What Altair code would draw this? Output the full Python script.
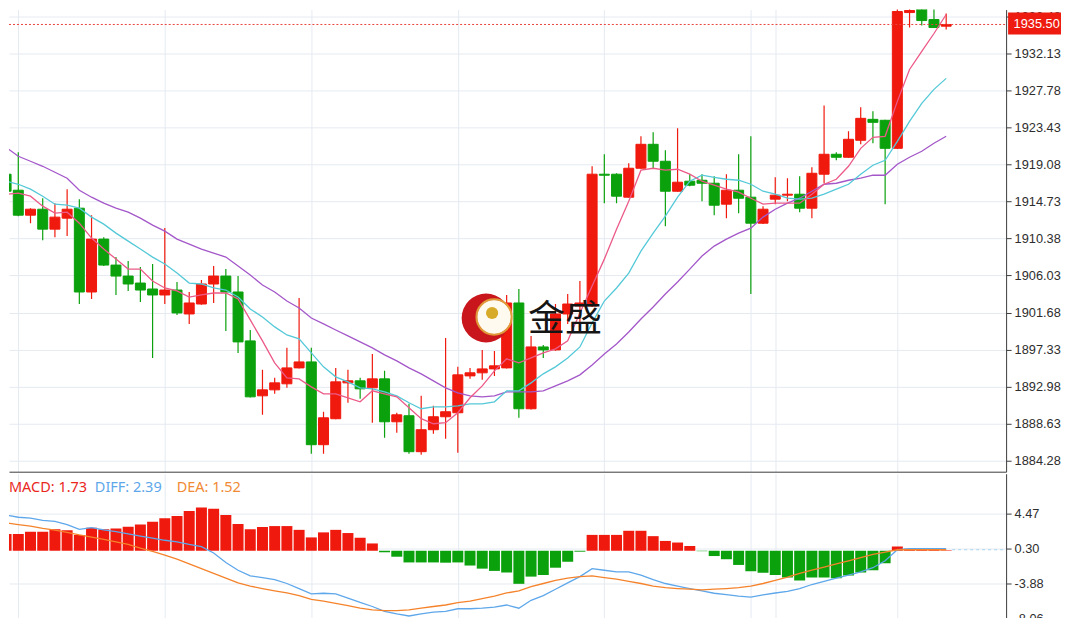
import altair as alt
import pandas as pd

# ---------------- data ----------------
opens = [1917.92, 1916.04, 1913.11, 1913.81, 1911.47, 1912.76, 1913.93, 1904.09, 1910.30, 1907.25,
         1905.96, 1905.14, 1904.44, 1903.74, 1904.32, 1901.51, 1902.68, 1905.03, 1905.96, 1904.09,
         1898.35, 1891.90, 1892.60, 1893.31, 1895.18, 1895.88, 1886.16, 1889.21, 1893.42, 1893.66,
         1892.84, 1893.89, 1888.85, 1889.56, 1885.34, 1887.92, 1889.44, 1889.91, 1894.24, 1894.60,
         1895.06, 1895.18, 1902.80, 1890.38, 1897.64, 1897.29, 1901.51, 1902.45, 1902.45, 1917.92,
         1917.92, 1915.22, 1918.62, 1921.43, 1919.44, 1915.92, 1917.10, 1917.21, 1916.86, 1914.40,
         1916.04, 1915.22, 1912.17, 1914.99, 1915.46, 1915.57, 1913.93, 1917.92, 1920.26, 1919.91,
         1921.90, 1924.36, 1924.25, 1920.96, 1936.90, 1937.37, 1936.08, 1935.30]
closes = [1915.92, 1913.11, 1913.81, 1911.47, 1912.88, 1913.81, 1904.09, 1910.30, 1907.25, 1905.96,
          1905.03, 1904.32, 1903.74, 1904.32, 1901.63, 1902.80, 1905.03, 1905.96, 1904.09, 1898.23,
          1891.78, 1892.60, 1893.42, 1895.18, 1895.88, 1886.16, 1889.32, 1893.54, 1893.66, 1892.72,
          1893.89, 1888.85, 1889.67, 1885.34, 1887.92, 1889.44, 1890.03, 1894.36, 1894.60, 1895.06,
          1895.42, 1902.80, 1890.38, 1897.64, 1897.29, 1901.51, 1902.68, 1902.80, 1917.92, 1917.80,
          1915.34, 1918.62, 1921.43, 1919.44, 1915.92, 1916.98, 1916.63, 1916.86, 1914.28, 1916.04,
          1915.10, 1912.17, 1913.81, 1915.46, 1915.57, 1913.93, 1918.03, 1920.26, 1919.91, 1922.02,
          1924.48, 1924.01, 1920.96, 1937.02, 1937.14, 1935.96, 1935.14, 1935.50]
highs = [1920.96, 1920.49, 1913.93, 1915.10, 1914.52, 1916.16, 1914.99, 1913.11, 1910.53, 1908.19,
         1907.72, 1907.02, 1907.37, 1911.59, 1905.26, 1904.09, 1905.49, 1907.13, 1906.78, 1905.96,
         1899.63, 1894.95, 1894.01, 1897.53, 1903.39, 1897.53, 1890.03, 1895.18, 1894.95, 1894.01,
         1896.82, 1894.83, 1889.91, 1890.96, 1891.90, 1890.73, 1898.70, 1895.30, 1895.18, 1897.29,
         1897.17, 1903.74, 1904.44, 1898.93, 1897.88, 1902.68, 1903.85, 1905.38, 1918.85, 1920.26,
         1918.03, 1919.20, 1922.37, 1922.84, 1920.72, 1923.31, 1917.92, 1917.92, 1917.68, 1917.92,
         1920.26, 1922.37, 1914.17, 1917.56, 1917.45, 1917.68, 1918.74, 1926.00, 1920.49, 1922.96,
         1925.77, 1925.30, 1924.30, 1937.96, 1937.96, 1937.60, 1937.37, 1936.78]
lows = [1912.99, 1912.99, 1912.17, 1910.18, 1910.53, 1910.65, 1902.68, 1903.27, 1907.13, 1903.74,
        1904.21, 1902.92, 1896.35, 1902.68, 1901.39, 1900.34, 1902.60, 1902.80, 1899.52, 1896.94,
        1891.70, 1889.67, 1892.13, 1892.84, 1895.10, 1885.10, 1885.10, 1889.15, 1891.08, 1891.55,
        1888.74, 1886.98, 1887.56, 1885.10, 1884.99, 1887.45, 1886.86, 1885.22, 1893.89, 1893.78,
        1894.24, 1895.10, 1889.32, 1890.30, 1896.35, 1897.20, 1900.34, 1900.34, 1902.33, 1914.52,
        1914.52, 1915.15, 1918.55, 1918.62, 1911.82, 1915.85, 1916.51, 1914.75, 1913.11, 1912.76,
        1913.35, 1903.85, 1912.06, 1914.40, 1914.75, 1913.46, 1912.76, 1916.86, 1919.56, 1919.85,
        1921.43, 1921.55, 1914.40, 1920.90, 1935.14, 1935.38, 1935.10, 1934.91]

ma5 = [1915.57, 1915.69, 1915.34, 1914.17, 1913.35, 1913.46, 1912.17, 1910.42, 1909.13, 1907.95,
       1906.78, 1906.78, 1905.38, 1904.56, 1904.21, 1903.50, 1903.74, 1903.97, 1903.97, 1903.27,
       1900.81, 1898.35, 1895.77, 1894.01, 1893.89, 1892.95, 1892.13, 1892.13, 1891.67, 1891.20,
       1892.49, 1892.13, 1891.78, 1890.49, 1889.21, 1888.62, 1888.74, 1889.91, 1891.67, 1893.07,
       1894.83, 1896.24, 1895.77, 1896.35, 1896.94, 1897.41, 1898.35, 1901.63, 1904.79, 1907.95,
       1911.47, 1914.75, 1918.39, 1918.62, 1918.39, 1918.50, 1917.92, 1917.10, 1916.63, 1916.16,
       1915.81, 1915.10, 1914.40, 1914.52, 1914.52, 1914.52, 1915.57, 1916.74, 1917.33, 1918.85,
       1920.96, 1922.25, 1922.37, 1926.47, 1930.22, 1932.33, 1934.44, 1936.67]
ma10 = [1917.10, 1916.74, 1916.16, 1915.34, 1914.40, 1914.28, 1913.93, 1912.88, 1912.06, 1911.00,
        1910.06, 1909.13, 1908.19, 1907.37, 1906.31, 1905.14, 1905.03, 1904.56, 1904.32, 1903.50,
        1902.10, 1901.16, 1899.99, 1899.05, 1898.58, 1896.94, 1895.30, 1894.13, 1893.54, 1892.84,
        1892.72, 1892.37, 1891.90, 1891.08, 1890.38, 1890.61, 1890.61, 1890.73, 1890.96, 1890.96,
        1891.20, 1892.49, 1892.49, 1893.42, 1894.48, 1895.30, 1896.35, 1897.64, 1900.46, 1903.03,
        1904.56, 1906.31, 1908.89, 1911.00, 1912.99, 1915.22, 1917.10, 1917.80, 1917.56, 1917.33,
        1917.21, 1916.74, 1915.92, 1915.57, 1915.10, 1914.99, 1915.10, 1915.57, 1916.16, 1916.74,
        1917.92, 1918.97, 1919.56, 1921.78, 1924.13, 1926.24, 1927.88, 1929.17]
ma20 = [1921.08, 1920.03, 1919.44, 1918.85, 1918.15, 1917.45, 1916.04, 1915.22, 1914.52, 1913.93,
        1913.46, 1912.76, 1911.94, 1911.24, 1910.30, 1909.71, 1909.13, 1908.66, 1908.19, 1907.13,
        1906.08, 1904.91, 1904.09, 1903.03, 1902.21, 1901.04, 1900.34, 1899.63, 1898.93, 1898.23,
        1897.53, 1896.70, 1896.00, 1895.18, 1894.48, 1893.66, 1892.84, 1892.25, 1891.90, 1891.78,
        1891.90, 1892.37, 1892.37, 1892.37, 1892.49, 1893.07, 1893.66, 1894.36, 1895.53, 1896.82,
        1897.99, 1899.40, 1900.92, 1902.33, 1903.85, 1905.26, 1906.78, 1908.31, 1909.48, 1910.30,
        1911.00, 1911.59, 1912.88, 1913.81, 1914.52, 1915.10, 1915.92, 1916.74, 1916.86, 1917.21,
        1917.45, 1917.80, 1917.80, 1919.09, 1919.91, 1920.61, 1921.55, 1922.37]

macd_hist = [2.00, 2.00, 2.26, 2.26, 2.56, 2.45, 1.89, 2.75, 2.56, 2.64,
             2.87, 3.13, 3.47, 3.88, 4.14, 4.75, 5.16, 5.01, 4.26, 3.20,
             2.56, 2.83, 2.94, 2.94, 2.49, 1.59, 2.19, 2.49, 2.11, 1.55,
             0.87, -0.18, -0.71, -1.39, -1.39, -1.39, -1.42, -1.39, -1.76, -2.13,
             -2.40, -2.59, -3.94, -3.08, -2.89, -2.02, -1.31, -0.11, 1.89, 1.89,
             1.89, 2.38, 2.38, 1.74, 1.17, 0.98, 0.57, -0.05, -0.63, -1.01,
             -1.69, -2.44, -2.62, -2.89, -3.19, -3.53, -3.19, -3.19, -3.26, -2.96,
             -2.59, -2.32, -1.50, 0.50, 0.25, 0.15, 0.08, 0.05]
diff_line = [4.25, 3.99, 3.88, 3.62, 3.51, 3.12, 2.56, 2.75, 2.49, 2.27,
             2.00, 1.74, 1.51, 1.25, 1.06, 0.76, 0.50, -0.26, -1.39, -2.32,
             -3.00, -3.19, -3.45, -3.90, -4.50, -5.14, -5.06, -5.14, -5.63, -6.16,
             -6.64, -7.21, -7.51, -7.77, -7.51, -7.32, -7.21, -6.91, -6.91, -6.84,
             -6.72, -6.46, -6.84, -5.90, -5.34, -4.58, -3.82, -3.08, -2.13, -2.32,
             -2.52, -2.52, -2.89, -3.45, -3.90, -4.21, -4.50, -4.77, -5.06, -5.22,
             -5.40, -5.52, -5.26, -5.03, -4.84, -4.50, -4.02, -3.64, -3.26, -2.89,
             -2.52, -2.02, -1.20, 0.12, 0.24, 0.24, 0.24, 0.24]
dea_line = [3.32, 3.12, 2.94, 2.67, 2.45, 2.19, 1.88, 1.62, 1.36, 1.06,
            0.76, 0.30, -0.07, -0.52, -1.00, -1.57, -2.13, -2.70, -3.26, -3.82,
            -4.21, -4.50, -4.77, -5.03, -5.34, -5.79, -6.01, -6.27, -6.53, -6.84,
            -7.03, -7.14, -7.14, -7.03, -6.84, -6.64, -6.46, -6.19, -6.01, -5.71,
            -5.40, -5.03, -4.77, -4.28, -3.90, -3.53, -3.26, -3.08, -3.00, -3.19,
            -3.37, -3.64, -3.90, -4.21, -4.39, -4.50, -4.58, -4.66, -4.58, -4.50,
            -4.39, -4.21, -3.90, -3.53, -3.15, -2.70, -2.32, -1.95, -1.57, -1.20,
            -0.82, -0.44, -0.15, 0.12, 0.12, 0.12, 0.12, 0.12]

price_ticks = [1884.28, 1888.63, 1892.98, 1897.33, 1901.68, 1906.03, 1910.38,
               1914.73, 1919.08, 1923.43, 1927.78, 1932.13, 1936.48]
macd_ticks = [4.47, 0.30, -3.88, -8.06]
time_grid = [1, 13, 25, 37, 49, 61, 63, 73]
last_price = 1935.50
legend_labels = ["MACD: 1.73", "DIFF: 2.39", "DEA: 1.52"]
watermark_text = "金盛"

# ---------------- styling ----------------
RED = "#f0190d"
GREEN = "#0ba10d"
PINK = "#ec5a88"
CYAN = "#55c9d8"
PURPLE = "#a457c9"
BLUE = "#5ea7ea"
ORANGE = "#f5832c"
GRID = "#e5eaf1"
AXIS = "#3c3c3c"
FONT = "Liberation Sans"
LFS = 12.8

PLOT_W = 999
MAIN_H = 463
MACD_H = 145

n = len(opens)
df = pd.DataFrame({
    "i": list(range(n)), "open": opens, "close": closes, "high": highs, "low": lows,
    "ma5": ma5, "ma10": ma10, "ma20": ma20,
    "hist": macd_hist, "diff": diff_line, "dea": dea_line,
})
df["dir"] = ["up" if c >= o else "down" for o, c in zip(opens, closes)]
df["hdir"] = ["pos" if h >= 0 else "neg" for h in macd_hist]

xs = alt.Scale(domain=[0.6475, 81.50], nice=False, zero=False)
ys = alt.Scale(domain=[1882.99, 1937.25], nice=False, zero=False)
ms = alt.Scale(domain=[-8.06, 9.18], nice=False, zero=False)
dir_scale = alt.Scale(domain=["up", "down"], range=[RED, GREEN])
sign_scale = alt.Scale(domain=["pos", "neg"], range=[RED, GREEN])

x_axis_main = alt.Axis(values=time_grid, grid=True, gridColor=GRID, labels=False, ticks=False,
                       domain=True, domainColor=AXIS, title=None, orient="bottom", minExtent=0)
x_axis_macd = alt.Axis(values=time_grid, grid=True, gridColor=GRID, labels=False, ticks=False,
                       domain=False, title=None, orient="bottom", minExtent=0)
y_axis_main = alt.Axis(orient="right", values=price_ticks, format=".2f", grid=True, gridColor=GRID,
                       domain=True, domainColor=AXIS, ticks=True, tickColor=AXIS, tickSize=5,
                       labelPadding=3, labelFont=FONT, labelFontSize=LFS, labelColor="#2e2e2e",
                       labelOverlap=False, labelFlush=False, title=None)
y_axis_macd = alt.Axis(orient="right", values=macd_ticks, grid=True, gridColor=GRID,
                       labelExpr="replace(format(datum.value, '.2f'), '\u2212', '-')",
                       domain=True, domainColor=AXIS, ticks=True, tickColor=AXIS, tickSize=5,
                       labelPadding=3, labelFont=FONT, labelFontSize=LFS, labelColor="#2e2e2e",
                       labelOverlap=False, labelFlush=False, title=None)

# same axis definition in every layer so the shared axis merges cleanly
xm = alt.X("i:Q", scale=xs, axis=x_axis_main)
xb = alt.X("i:Q", scale=xs, axis=x_axis_macd)


def ym(col):
    return alt.Y(f"{col}:Q", scale=ys, axis=y_axis_main)


def yb(col):
    return alt.Y(f"{col}:Q", scale=ms, axis=y_axis_macd)


# ---------------- main panel ----------------
wicks = alt.Chart(df).mark_rule(strokeWidth=1.2, clip=True).encode(
    x=xm, y=ym("low"), y2="high:Q",
    color=alt.Color("dir:N", scale=dir_scale, legend=None),
)
bodies = alt.Chart(df).mark_bar(size=10, strokeWidth=1, clip=True).encode(
    x=xm, y=ym("open"), y2="close:Q",
    color=alt.Color("dir:N", scale=dir_scale, legend=None),
    stroke=alt.Stroke("dir:N", scale=dir_scale, legend=None),
)


def ma_layer(col, colr):
    return alt.Chart(df).mark_line(color=colr, strokeWidth=1.3, clip=True).encode(x=xm, y=ym(col))


lp_df = pd.DataFrame({"p": [last_price]})
lp_rule = alt.Chart(lp_df).mark_rule(color="#e9433a", strokeDash=[2, 2], strokeWidth=1).encode(
    y=ym("p"), x=alt.value(0), x2=alt.value(PLOT_W))
lp_box = alt.Chart(lp_df).mark_rect(color="#ee1b10").encode(
    x=alt.value(1001), x2=alt.value(1054), y=alt.value(3), y2=alt.value(25))
lp_text = alt.Chart(lp_df).mark_text(align="left", baseline="middle", color="white",
                                     font=FONT, fontSize=LFS).encode(
    text=alt.Text("p:Q", format=".2f"), x=alt.value(1006.5), y=alt.value(14.5))

wm_df = pd.DataFrame({"t": [watermark_text]})
logo_outer = alt.Chart(wm_df).mark_point(filled=True, shape="circle", size=2400, color="#c9161c",
                                         opacity=1).encode(x=alt.value(478), y=alt.value(309))
logo_inner = alt.Chart(wm_df).mark_point(filled=True, shape="circle", size=1150, color="#fffaf0",
                                         opacity=1).encode(x=alt.value(486), y=alt.value(308))
logo_ring = alt.Chart(wm_df).mark_point(filled=False, shape="circle", size=1250, color="#e2a83c",
                                        strokeWidth=2, opacity=0.9).encode(
    x=alt.value(486), y=alt.value(308))
logo_ball = alt.Chart(wm_df).mark_point(filled=True, shape="circle", size=150, color="#d8aa2a",
                                        opacity=1).encode(x=alt.value(484), y=alt.value(304))
wm_text = alt.Chart(wm_df).mark_text(font="Noto Sans CJK SC", fontSize=37, color="#151515",
                                     align="center", baseline="middle").encode(
    text="t:N", x=alt.value(557), y=alt.value(311))

main = alt.layer(
    wicks, bodies,
    ma_layer("ma20", PURPLE), ma_layer("ma10", CYAN), ma_layer("ma5", PINK),
    lp_rule, lp_box, lp_text,
    logo_outer, logo_inner, logo_ring, logo_ball, wm_text,
).properties(width=PLOT_W, height=MAIN_H)

# ---------------- MACD panel ----------------
hist_bars = alt.Chart(df).mark_bar(size=11, clip=True).encode(
    x=xb, y=yb("hist"), y2=alt.datum(0),
    color=alt.Color("hdir:N", scale=sign_scale, legend=None),
)
diff_l = alt.Chart(df).mark_line(color=BLUE, strokeWidth=1.3, clip=True).encode(x=xb, y=yb("diff"))
dea_l = alt.Chart(df).mark_line(color=ORANGE, strokeWidth=1.3, clip=True).encode(x=xb, y=yb("dea"))
tail_df = pd.DataFrame({"v": [dea_line[-1]]})
tail = alt.Chart(tail_df).mark_rule(color="#a6d6ee", strokeDash=[3, 3], strokeWidth=1).encode(
    y=yb("v"), x=alt.value(945), x2=alt.value(PLOT_W))

leg_colors = ["#e9271c", BLUE, "#f08a34"]
leg_x = [0, 86, 168]
leg_layers = []
for lab, colr, lx in zip(legend_labels, leg_colors, leg_x):
    leg_layers.append(
        alt.Chart(pd.DataFrame({"t": [lab]})).mark_text(
            align="left", baseline="middle", font="Noto Sans", fontSize=14.5, color=colr
        ).encode(text="t:N", x=alt.value(lx), y=alt.value(14))
    )

macd = alt.layer(hist_bars, diff_l, dea_l, tail, *leg_layers).properties(width=PLOT_W, height=MACD_H)

chart = alt.vconcat(main, macd, spacing=0).properties(
    padding={"left": 0, "top": 0, "right": 0, "bottom": -9}, background="white"
).configure_view(stroke="transparent")

chart.save("out.html", embed_options={"renderer": "svg", "actions": False})
